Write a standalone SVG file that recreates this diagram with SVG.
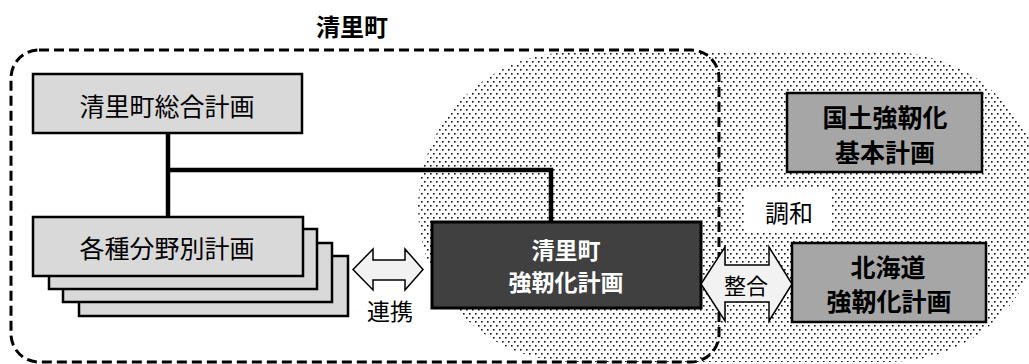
<svg xmlns="http://www.w3.org/2000/svg" width="1029" height="364" viewBox="0 0 1029 364">
<style>
text{font-family:"Noto Sans CJK JP","Noto Sans",sans-serif;text-anchor:middle;dominant-baseline:central}
.n{font-size:25px;fill:#000}
.b{font-size:25px;font-weight:bold;fill:#000}
.w{font-size:23px;font-weight:bold;fill:#fff}
.lbl{font-size:23px;fill:#000}
.lt{fill:#d9d9d9;stroke:#000;stroke-width:2.5}
.gr{fill:#a6a6a6;stroke:#000;stroke-width:2.5}
.dk{fill:#404040;stroke:#000;stroke-width:3}
.arr{fill:#f2f2f2;stroke:#000;stroke-width:1.5;stroke-linejoin:miter}
.con{fill:none;stroke:#000;stroke-width:4.5}
</style>
<defs>
<pattern id="dots" width="6" height="8" patternUnits="userSpaceOnUse">
<rect x="1" y="1" width="1.6" height="1.6" fill="#111"/>
<rect x="4" y="5" width="1.6" height="1.6" fill="#111"/>
</pattern>
</defs>
<rect width="1029" height="364" fill="#fff"/>
<g id="zone-kyoujinka">
<rect x="418" y="52" width="627" height="310" rx="155" ry="155" fill="url(#dots)"/>
</g>
<g id="zone-kiyosato">
<rect x="11" y="50" width="708" height="312" rx="28" ry="28" fill="none" stroke="#000" stroke-width="3" stroke-dasharray="10 5"/>
<text x="352" y="25" class="b" style="font-size:24px">清里町</text>
</g>
<g id="connectors">
<polyline class="con" points="168,133 168,217"/>
<polyline class="con" points="168,170 551,170 551,222"/>
</g>
<g id="node-sougou">
<rect class="lt" x="33" y="74" width="269" height="59"/>
<text class="n" x="167" y="105">清里町総合計画</text>
</g>
<g id="node-bunya">
<rect class="lt" x="79" y="256" width="269" height="60"/>
<rect class="lt" x="63" y="243" width="269" height="59"/>
<rect class="lt" x="49" y="229" width="268" height="60"/>
<rect class="lt" x="33" y="217" width="270" height="59"/>
<text class="n" x="167" y="247">各種分野別計画</text>
</g>
<g id="node-kiyosato-plan">
<rect class="dk" x="432" y="222" width="269" height="86"/>
<text class="w" x="566" y="249">清里町</text>
<text class="w" x="566" y="281">強靭化計画</text>
</g>
<g id="node-kokudo">
<rect class="gr" x="787" y="93" width="195" height="79"/>
<text class="b" x="885" y="116">国土強靭化</text>
<text class="b" x="885" y="151">基本計画</text>
</g>
<g id="node-hokkaido">
<rect class="gr" x="792" y="243" width="194" height="79"/>
<text class="b" x="888" y="266">北海道</text>
<text class="b" x="889" y="300">強靭化計画</text>
</g>
<g id="link-renkei">
<polygon class="arr" points="353,269.5 373,249 373,260 405,260 405,249 423,269.5 405,290 405,280 373,280 373,290"/>
<text class="lbl" x="390" y="310">連携</text>
</g>
<g id="link-seigou">
<polygon class="arr" points="701,284 725,247 725,265 769,265 769,247 792,284 769,321 769,302 725,302 725,321"/>
<text class="lbl" x="746" y="284" style="font-size:22px">整合</text>
</g>
<g id="label-chouwa">
<rect x="745" y="187" width="87" height="46" fill="#fff"/>
<text class="lbl" x="789" y="211" style="font-size:24px">調和</text>
</g>
</svg>
